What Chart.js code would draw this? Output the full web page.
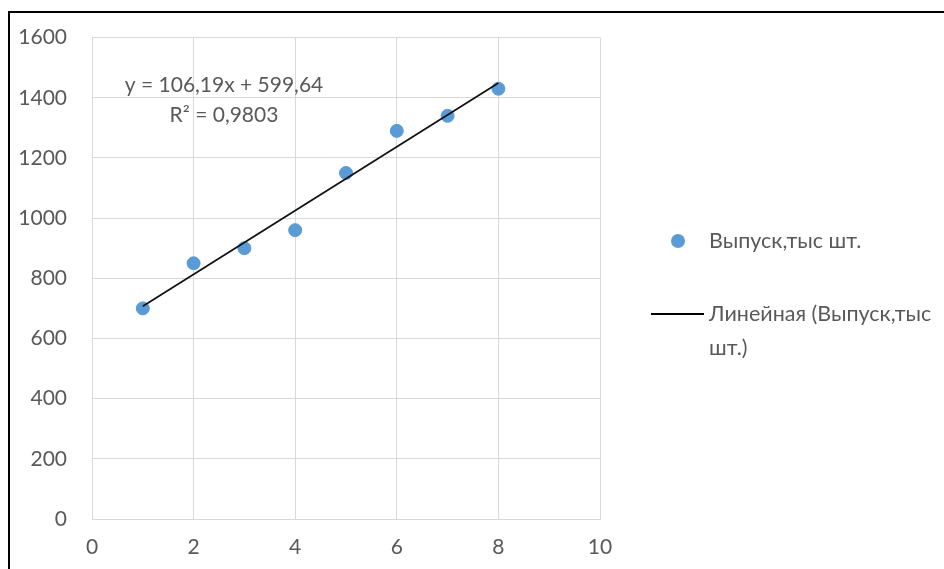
<!DOCTYPE html>
<html lang="ru">
<head>
<meta charset="utf-8">
<title>Выпуск, тыс шт.</title>
<script src="https://cdn.jsdelivr.net/npm/chart.js@4"></script>
<style>
    html, body { margin: 0; padding: 0; background: #fff; }
    #wrap { position: relative; width: 944px; height: 569px; }
    #frame {
        position: absolute; left: 8px; top: 11px; right: 0; bottom: 0;
        border-left: 2px solid #000; border-top: 2px solid #000;
    }
    canvas { position: absolute; left: 0; top: 0; }
</style>
</head>
<body>
<div id="wrap">
    <div id="frame"></div>
    <canvas id="chart" width="944" height="569"></canvas>
</div>
<script>
// данные графика
const periods = [1, 2, 3, 4, 5, 6, 7, 8];
const output = [700, 850, 900, 960, 1150, 1290, 1340, 1430];
// линия тренда (по уравнению y = 106,19x + 599,64)
const trendX = [1, 8];
const trendY = [706.83, 1449.16];
const equationLines = ['y = 106,19x + 599,64', 'R² = 0,9803'];
const seriesLabel = 'Выпуск,тыс шт.';
const trendLabel = 'Линейная (Выпуск,тыс шт.)';

const FONT = 'Lato, "Open Sans", sans-serif';
const TEXT = '#595959';
const BLUE = '#5B9BD5';

Chart.defaults.font.family = FONT;
Chart.defaults.font.size = 21;
Chart.defaults.color = TEXT;

// подпись уравнения тренда
const equationPlugin = {
    id: 'equation',
    afterDatasetsDraw(chart) {
        const { ctx, chartArea } = chart;
        ctx.save();
        ctx.font = '21px ' + FONT;
        ctx.fillStyle = TEXT;
        ctx.textAlign = 'center';
        ctx.textBaseline = 'middle';
        const cx = chartArea.left + 132;
        equationLines.forEach((line, i) => {
            ctx.fillText(line, cx, 85 + i * 30);
        });
        ctx.restore();
    }
};

// легенда справа с переносом строк
const sideLegend = {
    id: 'sideLegend',
    afterDraw(chart) {
        const { ctx, chartArea } = chart;
        const textX = chartArea.right + 109;
        const maxW = chart.width - textX - 2;
        ctx.save();
        ctx.font = '21.5px ' + FONT;
        ctx.fillStyle = TEXT;
        ctx.textAlign = 'left';
        ctx.textBaseline = 'middle';

        // маркер точек
        ctx.beginPath();
        ctx.arc(chartArea.right + 78, 241, 7, 0, Math.PI * 2);
        ctx.fillStyle = BLUE;
        ctx.fill();
        ctx.fillStyle = TEXT;
        ctx.fillText(seriesLabel, textX, 241);

        // линия тренда
        ctx.beginPath();
        ctx.moveTo(chartArea.right + 51, 314);
        ctx.lineTo(chartArea.right + 104, 314);
        ctx.strokeStyle = '#000';
        ctx.lineWidth = 2;
        ctx.stroke();

        const words = trendLabel.split(' ');
        const lines = [];
        let cur = '';
        words.forEach(w => {
            const test = cur ? cur + ' ' + w : w;
            if (ctx.measureText(test).width > maxW && cur) {
                lines.push(cur);
                cur = w;
            } else {
                cur = test;
            }
        });
        if (cur) lines.push(cur);
        lines.forEach((l, i) => ctx.fillText(l, textX, 314 + i * 34));
        ctx.restore();
    }
};

new Chart(document.getElementById('chart'), {
    type: 'scatter',
    data: {
        datasets: [
            {
                label: seriesLabel,
                data: periods.map((x, i) => ({ x, y: output[i] })),
                backgroundColor: BLUE,
                borderColor: BLUE,
                pointRadius: 6.5,
                pointHoverRadius: 6.5,
                order: 2
            },
            {
                label: trendLabel,
                type: 'line',
                data: trendX.map((x, i) => ({ x, y: trendY[i] })),
                borderColor: '#111',
                borderWidth: 1.75,
                pointRadius: 0,
                fill: false,
                order: 1
            }
        ]
    },
    options: {
        responsive: false,
        animation: false,
        events: [],
        layout: { padding: { top: 31, right: 344, bottom: 0, left: 0 } },
        plugins: {
            legend: { display: false },
            tooltip: { enabled: false }
        },
        scales: {
            x: {
                type: 'linear',
                min: 0,
                max: 10,
                ticks: { stepSize: 2, padding: 16, color: TEXT, callback: v => String(v) },
                grid: { color: '#D9D9D9', lineWidth: 1, drawTicks: false },
                border: { color: '#D9D9D9' },
                afterFit(scale) { scale.height = 50; }
            },
            y: {
                min: 0,
                max: 1600,
                ticks: { stepSize: 200, padding: 25, color: TEXT, callback: v => String(v) },
                grid: { color: '#D9D9D9', lineWidth: 1, drawTicks: false },
                border: { color: '#D9D9D9' },
                afterFit(scale) { scale.width = 92; }
            }
        }
    },
    plugins: [equationPlugin, sideLegend]
});
</script>
</body>
</html>
